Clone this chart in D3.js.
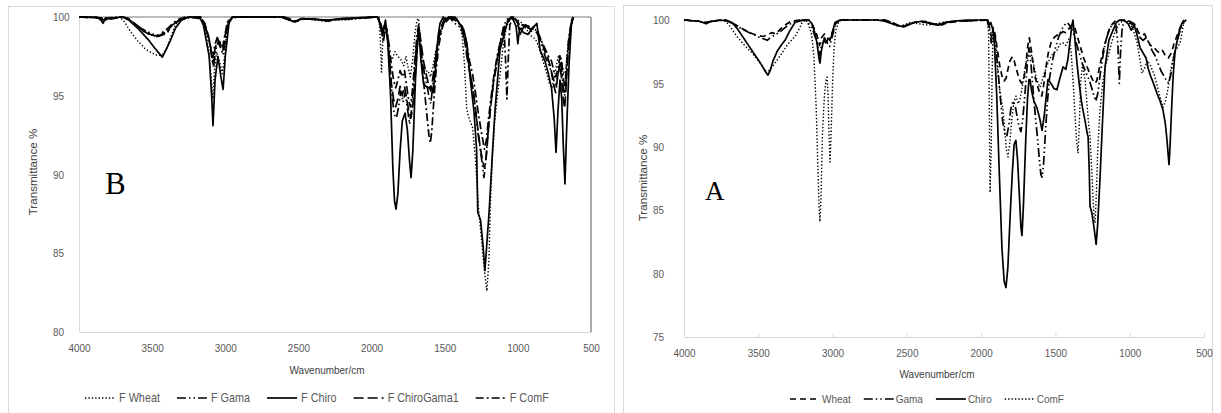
<!DOCTYPE html>
<html lang="en">
<head>
<meta charset="UTF-8">
<script src="https://cdn.jsdelivr.net/npm/d3@7"></script>
<title>FTIR spectra B and A</title>
<style>
  body { margin: 0; background: #fff; }
  svg text { font-family: "Liberation Sans", Arial, sans-serif; }
  svg text.letter { font-family: "Liberation Serif", "Times New Roman", serif; }
</style>
</head>
<body>
<svg id="chart" width="1221" height="413"></svg>
<script>
// ---- shared axis values ----
const xTicks = [4000, 3500, 3000, 2500, 2000, 1500, 1000, 500];
const yTicksB = [80, 85, 90, 95, 100];
const yTicksA = [75, 80, 85, 90, 95, 100];
const legendB = ["F Wheat", "F Gama", "F Chiro", "F ChiroGama1", "F ComF"];
const legendA = ["Wheat", "Gama", "Chiro", "ComF"];

// ---- panel B spectra  [wavenumber, transmittance %] ----
const bWheat = [[4000,100],[3900,99.95],[3860,99.9],[3840,99.8],[3820,99.95],[3720,100],[3690,99.7],[3650,99.1],[3600,98.5],[3550,98.0],[3500,97.7],[3460,97.55],[3430,97.6],[3400,98.0],[3370,98.8],[3340,99.5],[3310,99.9],[3280,100],[3170,100],[3140,99.3],[3115,98.0],[3095,96.0],[3085,94.8],[3075,96.5],[3060,97.8],[3040,97.2],[3020,96.4],[3005,97.5],[2990,99.0],[2970,99.9],[2900,100],[2620,100],[2580,99.85],[2540,99.7],[2500,99.8],[2460,99.9],[2380,99.8],[2300,99.7],[2250,99.85],[2180,99.8],[2100,99.9],[2000,100],[1950,100],[1940,98.5],[1932,96.5],[1922,98.8],[1910,99.6],[1895,98.8],[1880,97.6],[1860,97.3],[1840,97.8],[1820,97.5],[1800,97.3],[1780,96.9],[1765,97.5],[1750,96.8],[1735,96.2],[1720,97.2],[1705,98.8],[1690,99.8],[1678,99.9],[1665,98.5],[1650,96.9],[1635,96.5],[1615,96.6],[1598,96.2],[1580,96.9],[1560,97.9],[1540,98.6],[1520,99.2],[1500,99.7],[1480,100],[1420,99.9],[1400,99.5],[1380,98.8],[1365,97],[1350,94.2],[1335,93.6],[1310,93],[1290,91],[1270,88],[1250,86],[1230,84],[1212,82.6],[1198,84.5],[1188,88],[1175,91],[1160,93.2],[1140,95],[1122,96.3],[1100,98.2],[1080,99.3],[1050,100],[1000,99.8],[970,99.6],[940,99.2],[910,98.8],[880,98.6],[860,98.2],[840,97.6],[825,97.1],[805,96.5],[785,95.8],[767,95.5],[750,96.2],[735,97],[720,97.6],[705,97.2],[690,96.6],[675,96.3],[665,97.5],[650,98.8],[635,99.6],[622,100]];
const bGama = [[4000,100],[3860,99.95],[3836,99.8],[3810,99.95],[3700,100],[3660,99.8],[3600,99.4],[3540,99.1],[3490,98.9],[3450,98.8],[3420,98.9],[3390,99.2],[3360,99.5],[3330,99.7],[3300,99.9],[3170,100],[3140,99.5],[3110,98.5],[3090,97.3],[3080,96.8],[3068,97.8],[3050,98.4],[3030,98],[3015,97.6],[2998,98.6],[2980,99.6],[2950,100],[2620,100],[2560,99.8],[2520,99.65],[2480,99.85],[2400,99.9],[2300,99.75],[2220,99.85],[2100,99.9],[1950,100],[1935,99.2],[1920,98.4],[1905,99.3],[1890,98.8],[1875,97],[1860,95],[1845,93.8],[1830,93.6],[1815,94.3],[1800,95.3],[1785,94.6],[1770,95.2],[1755,94.2],[1740,93.2],[1725,94.2],[1710,96],[1695,98],[1680,99.2],[1668,98.5],[1650,97],[1635,96.2],[1620,95.6],[1605,94.8],[1595,94.5],[1580,95.8],[1565,97.2],[1545,98.5],[1525,99.3],[1500,99.8],[1470,100],[1440,99.7],[1420,99.5],[1400,99.4],[1380,99.1],[1360,98.4],[1345,97.5],[1330,96.6],[1310,95.6],[1290,94.2],[1275,92.8],[1260,91.8],[1245,90.8],[1232,89.8],[1222,90.6],[1210,92],[1195,93.5],[1180,94.8],[1160,96.2],[1140,97.2],[1120,98.4],[1100,99.3],[1080,99.8],[1050,100],[1010,99.8],[990,99.2],[970,99.5],[940,99.4],[910,99.1],[880,99.2],[850,98.6],[830,98],[810,97.4],[790,97],[770,96.5],[755,96],[740,95.6],[725,96.4],[712,97.2],[700,96.6],[690,95.6],[680,95],[668,96.2],[655,98],[640,99.2],[622,100]];
const bChiro = [[4000,100],[3880,100],[3850,99.8],[3836,99.6],[3820,99.9],[3700,100],[3670,99.9],[3600,99.3],[3530,98.6],[3480,98.0],[3430,97.45],[3380,98.4],[3340,99.3],[3300,99.8],[3250,100],[3170,99.9],[3150,99.5],[3110,97.5],[3092,94.8],[3084,93.1],[3070,96],[3050,97.5],[3030,96.2],[3015,95.4],[3000,97.5],[2975,99.6],[2950,100],[2600,100],[2560,99.8],[2520,99.7],[2480,99.9],[2300,99.8],[2200,99.9],[2000,100],[1960,100],[1935,99.5],[1920,99.0],[1905,99.8],[1890,98.5],[1870,95],[1855,90.5],[1843,88.3],[1833,87.8],[1820,88.8],[1805,91.5],[1790,93.4],[1771,93.9],[1755,92.8],[1740,90.8],[1730,89.8],[1718,91.5],[1700,96],[1685,98.5],[1676,99.0],[1662,97.2],[1645,95.8],[1630,95.6],[1610,95.5],[1595,95.6],[1580,95.2],[1560,97],[1545,98.8],[1532,99.6],[1510,100],[1490,99.7],[1460,100],[1430,100],[1400,99.6],[1370,99.2],[1348,98.3],[1327,96.2],[1300,94],[1282,91.6],[1274,87.6],[1255,87.1],[1238,85.5],[1225,83.9],[1212,85.6],[1196,87.7],[1176,91],[1156,94.1],[1122,97.9],[1074,99.6],[1040,100],[1012,99.4],[1000,98.3],[988,99.3],[960,99.0],[930,98.9],[900,99.3],[870,99.6],[848,97.9],[815,97.2],[794,96.5],[770,95.5],[752,93.6],[739,91.4],[726,94],[712,96.0],[700,94.8],[690,92],[678,89.4],[666,93],[650,97],[632,99.8],[622,100]];
const bChiroGama1 = [[4000,100],[3850,99.95],[3836,99.85],[3700,100],[3660,99.9],[3620,99.6],[3580,99.3],[3540,99.0],[3500,98.85],[3470,98.75],[3450,98.8],[3420,99.0],[3400,98.9],[3380,99.3],[3350,99.6],[3310,99.8],[3250,100],[3170,100],[3140,99.6],[3115,98.8],[3095,97.8],[3083,97.0],[3070,98],[3050,98.6],[3030,98.2],[3016,97.9],[3000,98.9],[2980,99.7],[2950,100],[2600,100],[2560,99.9],[2520,99.75],[2470,99.9],[2300,99.8],[2150,99.9],[1960,100],[1940,99.5],[1925,98.8],[1910,99.5],[1895,99],[1880,97.6],[1865,95.8],[1850,94.8],[1835,94.3],[1820,94.8],[1805,95.6],[1790,95],[1775,95.6],[1760,94.8],[1745,94],[1730,93.6],[1715,94.6],[1700,96.5],[1685,98.5],[1675,99.3],[1662,98.4],[1645,97.2],[1625,96.3],[1608,95.6],[1595,95.3],[1580,96.2],[1560,97.6],[1540,98.8],[1520,99.5],[1500,99.9],[1460,100],[1420,99.9],[1400,99.6],[1380,99.4],[1365,98.6],[1350,97.6],[1335,96.8],[1318,96],[1300,95],[1285,93.8],[1270,92.6],[1255,91.6],[1240,90.8],[1228,90.4],[1215,91.2],[1202,92.8],[1185,94.4],[1165,96],[1140,97.4],[1115,98.6],[1090,99.4],[1060,99.9],[1030,100],[1000,99.6],[985,98.9],[965,99.3],[940,99.5],[915,99.2],[890,99.4],[865,99.1],[840,98.5],[815,97.8],[795,97.4],[775,96.8],[758,95.8],[742,95.2],[728,96.2],[714,97],[702,96.2],[690,94.8],[680,94.2],[670,95.6],[658,97.6],[642,99.2],[622,100]];
const bComF = [[4000,100],[3850,99.95],[3836,99.8],[3700,100],[3660,99.85],[3610,99.5],[3560,99.1],[3520,98.9],[3480,98.8],[3450,98.85],[3420,99.1],[3390,99.3],[3360,99.6],[3320,99.85],[3260,100],[3170,100],[3145,99.6],[3120,98.9],[3098,98],[3085,97.4],[3072,98.2],[3055,98.7],[3035,98.4],[3018,98.1],[3002,98.9],[2985,99.7],[2950,100],[2600,100],[2560,99.85],[2520,99.7],[2480,99.9],[2380,99.85],[2300,99.75],[2200,99.9],[1960,100],[1940,99.6],[1925,99],[1910,99.6],[1895,99.2],[1880,98.2],[1865,97],[1850,96],[1835,95.5],[1820,96],[1805,96.6],[1790,96.2],[1775,96.6],[1760,95.6],[1748,94.8],[1735,94.3],[1720,95.4],[1705,97.2],[1690,98.8],[1678,99.5],[1665,98.2],[1650,96.4],[1635,95],[1620,93.6],[1608,92.5],[1598,92],[1588,92.8],[1575,94.6],[1560,96.5],[1540,98.2],[1520,99.2],[1500,99.8],[1470,100],[1430,99.8],[1400,99.6],[1380,99.2],[1360,98.8],[1345,98],[1330,97.2],[1310,96.4],[1290,95.2],[1272,94],[1255,93],[1240,92.2],[1228,91.6],[1215,92.2],[1200,93.6],[1182,95],[1162,96.4],[1140,97.6],[1115,98.6],[1095,99.2],[1085,97.5],[1075,94.8],[1066,97.2],[1055,99.5],[1030,100],[1000,99.7],[975,99.2],[950,99.5],[920,99.4],[890,99.2],[860,98.9],[835,98.4],[810,97.9],[790,97.5],[770,97.2],[752,96.5],[740,96.2],[725,96.8],[710,97.6],[698,97],[688,96],[678,95.6],[668,96.8],[655,98.4],[640,99.4],[622,100]];

// ---- panel A spectra ----
const aWheat = [[4000,100],[3900,99.9],[3860,99.8],[3820,99.9],[3720,100],[3680,99.8],[3620,99.4],[3560,99.0],[3510,98.8],[3470,98.7],[3440,98.8],[3410,99.0],[3380,98.9],[3350,99.3],[3320,99.6],[3280,99.9],[3220,100],[3160,100],[3130,99.5],[3105,98.8],[3088,98.0],[3075,98.6],[3055,98.9],[3035,98.6],[3018,98.4],[3000,99.1],[2980,99.7],[2950,100],[2650,100],[2600,99.8],[2560,99.6],[2520,99.5],[2480,99.7],[2440,99.85],[2380,99.9],[2320,99.7],[2270,99.6],[2220,99.8],[2150,99.9],[1960,100],[1945,99.5],[1930,98.6],[1918,99.4],[1905,98.8],[1890,97.6],[1875,96.4],[1860,95.6],[1845,95.2],[1832,95.4],[1818,96.2],[1805,96.8],[1790,97.1],[1778,96.8],[1765,96.2],[1750,95.6],[1738,95.2],[1725,95.0],[1712,95.4],[1700,96.4],[1688,97.8],[1676,98.6],[1662,97.6],[1648,96.4],[1635,95.4],[1620,94.8],[1605,94.2],[1592,94.0],[1580,94.8],[1565,96.2],[1548,97.4],[1530,98.2],[1510,98.6],[1490,98.8],[1470,98.8],[1450,99.1],[1430,99.0],[1410,99.3],[1390,99.6],[1370,99.4],[1350,98.6],[1330,97.8],[1310,97.0],[1290,96.4],[1270,95.8],[1250,95.3],[1235,95.0],[1222,95.2],[1208,96.0],[1190,97.0],[1170,98.0],[1150,98.8],[1130,99.5],[1100,99.9],[1060,100],[1020,99.9],[990,99.7],[960,99.5],[940,99.0],[920,98.8],[900,98.9],[880,98.4],[860,98],[840,97.9],[820,97.6],[800,97.4],[780,97.6],[760,97.2],[740,97.0],[720,97.4],[700,98.2],[680,98.8],[660,99.4],[640,99.8],[620,100]];
const aGama = [[4000,100],[3880,99.85],[3850,99.7],[3820,99.9],[3720,100],[3670,99.7],[3610,99.3],[3560,99.0],[3520,98.8],[3490,98.6],[3460,98.5],[3440,98.4],[3420,98.6],[3390,98.8],[3360,99.0],[3330,99.3],[3300,99.6],[3250,99.9],[3180,100],[3140,99.4],[3115,98.6],[3098,97.8],[3087,97.2],[3075,98.0],[3055,98.6],[3035,98.2],[3020,97.9],[3002,98.7],[2985,99.5],[2960,100],[2650,100],[2600,99.8],[2560,99.6],[2520,99.5],[2480,99.7],[2420,99.85],[2350,99.8],[2300,99.65],[2250,99.8],[2150,99.9],[1960,100],[1945,99.4],[1932,98.2],[1920,99.2],[1905,98.6],[1890,96.5],[1872,94],[1855,92],[1840,91],[1828,90.8],[1815,91.6],[1800,93],[1785,93.6],[1770,93.2],[1758,92.4],[1745,91.6],[1732,91.2],[1720,92.2],[1705,94.2],[1690,96.4],[1678,97.8],[1665,96.6],[1650,94.4],[1635,92.4],[1620,90.6],[1608,89],[1598,87.8],[1590,87.6],[1580,88.6],[1568,91],[1555,93.4],[1540,95.4],[1520,96.8],[1500,97.8],[1480,98.6],[1460,99.2],[1440,99.6],[1420,99.8],[1400,99.5],[1380,99.0],[1360,98.2],[1340,97.4],[1320,96.6],[1300,96.0],[1285,95.6],[1270,95.2],[1255,94.6],[1240,94.0],[1228,93.6],[1215,94.2],[1200,95.6],[1180,97.2],[1160,98.4],[1140,99.2],[1120,99.6],[1095,99.8],[1080,98.2],[1070,95.0],[1062,97.4],[1050,99.5],[1030,100],[1000,99.9],[970,99.7],[950,99.3],[930,98.6],[910,98.4],[890,98.6],[870,98.2],[850,97.6],[830,97.2],[810,96.6],[790,96.0],[770,95.6],[752,95.2],[738,95.0],[725,95.6],[710,96.6],[695,97.6],[680,98.4],[660,99.2],[640,99.7],[620,100]];
const aChiro = [[4000,100],[3900,99.9],[3860,99.75],[3830,99.85],[3760,100],[3700,99.9],[3677,99.8],[3640,99.3],[3600,98.6],[3560,97.9],[3520,97.2],[3480,96.5],[3450,95.9],[3435,95.65],[3420,96],[3400,96.8],[3370,97.6],[3340,98.1],[3320,98.4],[3290,99.1],[3253,99.8],[3200,100],[3160,100],[3138,99.7],[3120,99.0],[3105,98.2],[3092,97.0],[3085,96.6],[3075,97.6],[3060,98.4],[3045,98.2],[3030,98.5],[3010,98.6],[2995,99.3],[2984,99.8],[2950,100],[2700,100],[2650,99.9],[2600,99.7],[2560,99.55],[2520,99.45],[2490,99.6],[2450,99.8],[2400,99.9],[2340,99.7],[2290,99.6],[2250,99.75],[2200,99.9],[2100,100],[1955,100],[1945,99.6],[1935,99.8],[1920,99.2],[1910,98],[1895,94],[1878,88],[1860,82],[1845,79.4],[1833,78.9],[1820,80.5],[1805,84.5],[1790,88],[1778,90.2],[1766,90.5],[1755,89],[1742,86],[1732,83.6],[1725,83.0],[1715,85.5],[1700,90.5],[1688,93.8],[1678,95.3],[1671,95.3],[1660,94.4],[1645,93.6],[1625,93.1],[1605,92.2],[1590,91.3],[1575,92.5],[1560,94.2],[1550,95.3],[1530,95.0],[1510,94.6],[1490,94.5],[1470,95.4],[1449,96.3],[1430,96.1],[1415,97],[1400,98.5],[1390,99.5],[1382,100],[1370,98.6],[1355,96.6],[1340,95],[1325,93.6],[1315,92.9],[1300,92],[1285,91],[1280,90.8],[1272,88],[1267,85.3],[1255,84.8],[1240,83.6],[1226,82.3],[1215,84],[1200,87.5],[1185,91.5],[1166,96.3],[1140,98.4],[1112,99.2],[1090,99.8],[1068,100],[1040,100],[1010,99.7],[990,99.2],[970,99.6],[950,98.8],[930,97.8],[910,97.4],[890,97],[876,96.2],[860,95.6],[840,95],[816,94.2],[795,93.6],[776,92.9],[760,91.8],[748,90.4],[740,89.2],[735,88.6],[728,90.2],[718,93],[708,95.5],[695,97.5],[680,98.4],[665,99.2],[650,99.7],[635,100]];
const aComF = [[4000,100],[3900,99.9],[3850,99.8],[3760,100],[3720,99.9],[3690,99.5],[3650,98.8],[3600,98.1],[3542,97.4],[3500,96.8],[3470,96.3],[3455,96.0],[3430,96.0],[3400,96.4],[3370,96.9],[3340,97.4],[3300,98.1],[3253,98.7],[3220,99.4],[3206,99.8],[3180,100],[3160,99.6],[3140,98.8],[3125,97],[3110,93],[3098,88],[3090,85],[3085,84.1],[3078,86],[3068,91],[3055,94],[3045,95.2],[3037,95.5],[3030,94],[3024,91],[3017,88.8],[3010,91],[3000,95],[2990,97.8],[2978,99.2],[2960,99.8],[2940,100],[2650,100],[2600,99.7],[2560,99.5],[2520,99.6],[2480,99.8],[2420,99.7],[2360,99.6],[2300,99.7],[2240,99.85],[2150,99.9],[1960,100],[1950,99],[1945,93],[1940,86.4],[1932,90],[1926,96],[1920,99.2],[1910,98.6],[1900,97.5],[1888,96],[1875,94.5],[1860,93.4],[1853,92.9],[1840,91.2],[1830,89.8],[1819,89.2],[1808,90.2],[1795,92],[1780,93.5],[1765,94],[1750,93.4],[1738,93.8],[1725,94.6],[1710,95.8],[1695,96.8],[1680,97.4],[1671,97.6],[1660,97.2],[1645,96.4],[1628,95.4],[1615,95],[1604,94.7],[1590,95.2],[1575,95.8],[1560,96.3],[1540,96.9],[1520,97.3],[1500,97.5],[1490,97.6],[1470,98.1],[1450,98.2],[1430,98],[1410,98.5],[1395,97.6],[1380,95],[1368,92.5],[1358,90.5],[1348,89.5],[1340,91.5],[1330,95],[1318,96.5],[1300,95.2],[1285,93],[1275,91.6],[1267,90.8],[1255,88],[1245,85.5],[1238,84.2],[1233,84],[1224,86.5],[1215,89.8],[1200,92.9],[1180,95.2],[1165,96.3],[1146,97.1],[1120,98.3],[1095,99.2],[1070,99.7],[1040,100],[1000,99.8],[975,99.2],[950,98.2],[930,96.8],[917,95.8],[900,96.2],[880,96.8],[860,96.4],[835,95.7],[815,94.8],[795,93.9],[776,93.1],[760,93.6],[745,94.4],[730,95.6],[715,96.6],[700,97.4],[680,97.8],[661,98.2],[645,99.2],[632,100]];

// line styles (dash patterns), solid = null
const DOT = "1.4,2", GAMA = "9,3,1.5,3,1.5,3", LONG = "10,4", DASHDOT = "8,3,2,3", SHORT = "6,4";
const SQ = 0.86;   // the source picture is squeezed horizontally

const svg = d3.select("#chart");

function drawPanel(p) {
    const x = d3.scaleLinear().domain([4000, 500]).range([p.left, p.right]);
    const y = d3.scaleLinear().domain([p.yMin, 100]).range([p.bottom, p.top]);
    const g = svg.append("g");

    // outer chart border
    g.append("rect")
        .attr("x", p.box[0] + 0.5).attr("y", p.box[1] + 0.5)
        .attr("width", p.box[2]).attr("height", 450)
        .attr("fill", "#fff").attr("stroke", "#d9d9d9");

    if (p.frame) {
        g.append("line").attr("x1", p.left).attr("x2", p.right).attr("y1", p.top).attr("y2", p.top)
            .attr("stroke", "#a6a6a6").attr("stroke-width", 1.5);
        g.append("line").attr("x1", p.right).attr("x2", p.right).attr("y1", p.top).attr("y2", p.bottom)
            .attr("stroke", "#8c8c8c").attr("stroke-width", 1.5);
    }

    const xAxis = d3.axisBottom(x).tickValues(xTicks).tickFormat(d3.format("d"))
        .tickSizeInner(p.xTickSize).tickSizeOuter(0).tickPadding(12 - Math.max(p.xTickSize, 0));
    const gx = g.append("g").attr("transform", `translate(0,${p.bottom})`).call(xAxis);
    const yAxis = d3.axisLeft(y).tickValues(p.yTicks).tickSize(0);
    const gy = g.append("g").attr("transform", `translate(${p.left},0)`).call(yAxis);

    [gx, gy].forEach(a => {
        a.select(".domain").attr("stroke", "#d9d9d9");
        a.selectAll(".tick line").attr("stroke", "#d9d9d9");
        a.selectAll("text").attr("fill", "#595959").attr("font-size", 11.6)
            .attr("font-family", "Liberation Sans, Arial, sans-serif");
    });
    gx.selectAll("text").attr("transform", `scale(${SQ},1)`);
    gy.selectAll("text").attr("text-anchor", "start")
        .attr("x", -p.yLabelOffset / SQ).attr("transform", `scale(${SQ},1)`);

    // axis titles
    g.append("text").text("Wavenumber/cm")
        .attr("transform", `translate(${p.xTitle[0]},${p.xTitle[1]}) scale(${SQ},1)`)
        .attr("text-anchor", "middle").attr("font-size", 11.6).attr("fill", "#404040");
    g.append("text").text("Transmittance %")
        .attr("transform", `translate(${p.yTitle[0]},${p.yTitle[1]}) rotate(-90)`)
        .attr("text-anchor", "middle").attr("font-size", 11.6).attr("fill", "#404040");

    // panel letter
    g.append("text").text(p.letter)
        .attr("class", "letter")
        .attr("x", p.letterPos[0]).attr("y", p.letterPos[1])
        .attr("font-size", p.letterSize).attr("fill", "#000");

    // spectra
    const line = d3.line().x(d => x(d[0])).y(d => y(d[1]));
    p.series.forEach(s => {
        g.append("path").datum(s.data)
            .attr("d", line)
            .attr("fill", "none")
            .attr("stroke", "#000")
            .attr("stroke-width", s.dash === DOT ? 1.4 : 1.7)
            .attr("stroke-linejoin", "round")
            .attr("stroke-dasharray", s.dash);
    });

    // legend
    let lx = p.legend.x;
    p.series.forEach((s, i) => {
        g.append("line")
            .attr("x1", lx).attr("x2", lx + p.legend.lineLen)
            .attr("y1", p.legend.y).attr("y2", p.legend.y)
            .attr("stroke", "#000").attr("stroke-width", s.dash === DOT ? 1.4 : 1.7)
            .attr("stroke-dasharray", s.dash);
        lx += p.legend.lineLen + p.legend.textGap;
        const t = g.append("text").text(p.labels[i])
            .attr("transform", `translate(${lx},${p.legend.y + 4}) scale(${SQ},1)`)
            .attr("font-size", p.legend.fontSize).attr("fill", "#595959");
        lx += t.node().getComputedTextLength() * SQ + p.legend.itemGap;
    });
}

drawPanel({
    box: [8, 6, 606], left: 79, right: 591, top: 17, bottom: 332, yMin: 80,
    yTicks: yTicksB, yLabelOffset: 26, xTickSize: 0, frame: true,
    xTitle: [327, 374], yTitle: [37, 172],
    letter: "B", letterPos: [105, 194], letterSize: 31,
    labels: legendB,
    legend: { x: 85, y: 398, lineLen: 30, textGap: 4, itemGap: 17, fontSize: 12.6 },
    series: [
        { data: bWheat, dash: DOT },
        { data: bGama, dash: GAMA },
        { data: bChiro, dash: null },
        { data: bChiroGama1, dash: LONG },
        { data: bComF, dash: DASHDOT }
    ]
});

drawPanel({
    box: [623, 5, 589], left: 684, right: 1204, top: 20, bottom: 337, yMin: 75,
    yTicks: yTicksA, yLabelOffset: 31, xTickSize: -4, frame: false,
    xTitle: [937, 378], yTitle: [647, 178],
    letter: "A", letterPos: [705, 200], letterSize: 27,
    labels: legendA,
    legend: { x: 790, y: 399, lineLen: 30, textGap: 2, itemGap: 13, fontSize: 11.6 },
    series: [
        { data: aWheat, dash: SHORT },
        { data: aGama, dash: GAMA },
        { data: aChiro, dash: null },
        { data: aComF, dash: DOT }
    ]
});
</script>
</body>
</html>
